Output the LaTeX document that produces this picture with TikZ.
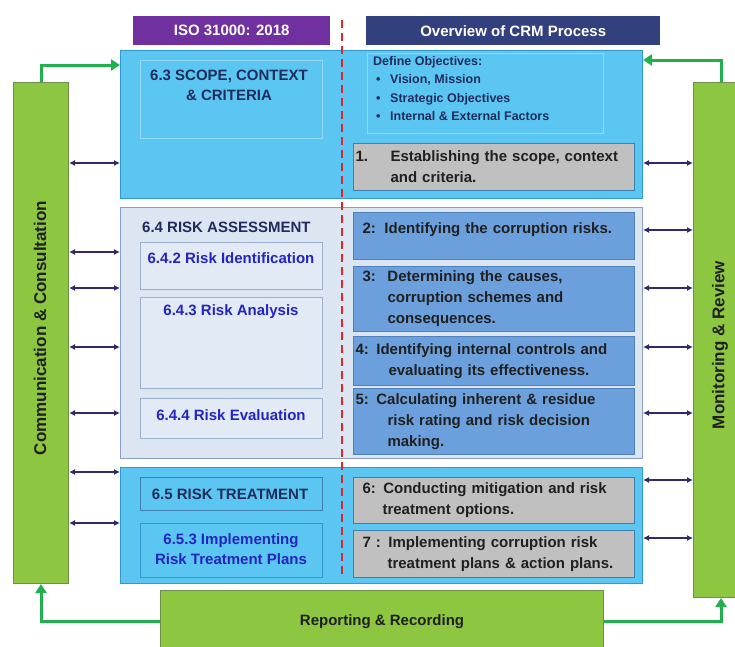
\documentclass[tikz,border=0pt]{standalone}
\usepackage{fontspec}
\setmainfont{Liberation Sans}
\usetikzlibrary{arrows.meta}

\definecolor{isopurple}{HTML}{7030A0}
\definecolor{crmnavy}{HTML}{33407E}
\definecolor{skyfill}{HTML}{5CC6F2}
\definecolor{skyline}{HTML}{3199CF}
\definecolor{skyframe}{HTML}{93D9F6}
\definecolor{palefill}{HTML}{DCE6F2}
\definecolor{paleline}{HTML}{8C9DC3}
\definecolor{subfill}{HTML}{E1EAF5}
\definecolor{subline}{HTML}{9BB0CD}
\definecolor{stepblue}{HTML}{6CA0DC}
\definecolor{stepline}{HTML}{4F81BD}
\definecolor{stepgray}{HTML}{C0C0C0}
\definecolor{grayline}{HTML}{3F7FB0}
\definecolor{leafgreen}{HTML}{8DC641}
\definecolor{leafline}{HTML}{6F8F4A}
\definecolor{flowgreen}{HTML}{21B04B}
\definecolor{linknavy}{HTML}{2E2A6B}
\definecolor{headink}{HTML}{1F2C5C}
\definecolor{blueink}{HTML}{2424C0}
\definecolor{stepink}{HTML}{202020}
\definecolor{divred}{HTML}{E0262C}

\begin{document}
\begin{tikzpicture}[x=1pt, y=-1pt,
    every node/.style={font=\bfseries, inner sep=0pt},
    header/.style={anchor=north west, text=white, minimum height=29,
        font=\bfseries\fontsize{15}{18}\selectfont},
    panel/.style={anchor=north west, line width=1pt, minimum width=522},
    frame/.style={anchor=north west, line width=0.8pt},
    subframe/.style={anchor=north west, draw=subline, fill=subfill, line width=1pt, minimum width=182},
    stepbox/.style={anchor=north west, draw=stepline, fill=stepblue, line width=1pt,
        text width=277, inner xsep=2pt, align=left, text=stepink,
        font=\bfseries\fontsize{15}{21}\selectfont},
    graystep/.style={stepbox, fill=stepgray, draw=grayline},
    headtext/.style={text=headink, font=\bfseries\fontsize{15}{20}\selectfont},
    bluetext/.style={text=blueink, font=\bfseries\fontsize{15}{20}\selectfont},
    greenbox/.style={anchor=north west, draw=leafline, fill=leafgreen, line width=1pt},
    greentext/.style={text=stepink, font=\bfseries\fontsize{17}{20}\selectfont},
    flow/.style={draw=flowgreen, line width=3pt, -{Triangle[length=9pt,width=11pt]}},
    link/.style={draw=linknavy, line width=1.8pt, {Latex[length=6pt,width=6pt]}-{Latex[length=6pt,width=6pt]}}
  ]
  \useasboundingbox (0,0) rectangle (735,646);
  \clip (0,0) rectangle (735,646);
  \fill[white] (0,0) rectangle (735,646);

  \node[header, fill=isopurple, minimum width=197] (iso) at (133,16) {ISO 31000: 2018};
  \node[header, fill=crmnavy, minimum width=294] (crm) at (366,16) {Overview of CRM Process};

  \node[greenbox, minimum width=55, minimum height=501] (comm) at (13,82) {};
  \node[greenbox, minimum width=55, minimum height=515] (monitor) at (693,82) {};
  \node[greenbox, minimum width=443, minimum height=62, greentext, font=\bfseries\fontsize{15}{18}\selectfont] (report) at (160,590) {Reporting \& Recording};
  \node[greentext, rotate=90] (commT) at (40,328) {Communication \& Consultation};
  \node[greentext, rotate=90] (monitorT) at (720,345) {Monitoring \& Review};

  \node[panel, fill=skyfill, draw=skyline, minimum height=148] (scope) at (120,50) {};
  \node[panel, fill=palefill, draw=paleline, minimum height=251] (assess) at (120,207) {};
  \node[panel, fill=skyfill, draw=skyline, minimum height=116] (treat) at (120,467) {};

  \node[frame, draw=skyframe, minimum width=182, minimum height=78] (scopeframe) at (140,60) {};
  \node[headtext, align=center] (scopeT) at (229,85) {6.3 SCOPE, CONTEXT\\\& CRITERIA};
  \node[frame, draw=skyframe, minimum width=236, minimum height=80] (objframe) at (367,53) {};
  \node[anchor=north west, align=left, text=headink, font=\bfseries\fontsize{12.5}{18.5}\selectfont] (objT) at (373,56)
    {Define Objectives:\\
     \hspace*{3pt}\makebox[14pt][l]{\textbullet}Vision, Mission\\
     \hspace*{3pt}\makebox[14pt][l]{\textbullet}Strategic Objectives\\
     \hspace*{3pt}\makebox[14pt][l]{\textbullet}Internal \& External Factors};

  \node[headtext, anchor=west] (assessT) at (142,227) {6.4 RISK ASSESSMENT};
  \node[subframe, minimum height=47] (ident) at (140,242) {};
  \node[subframe, minimum height=91] (analysis) at (140,297) {};
  \node[subframe, minimum height=40] (evaluation) at (140,398) {};
  \node[bluetext] (identT) at (231,258) {6.4.2 Risk Identification};
  \node[bluetext] (analysisT) at (231,312) {6.4.3 Risk Analysis};
  \node[bluetext] (evaluationT) at (231,415) {6.4.4 Risk Evaluation};

  \node[subframe, fill=skyfill, draw=grayline, minimum height=33] (treatbox) at (140,477) {};
  \node[subframe, fill=skyfill, draw=skyline, minimum height=54] (implement) at (140,523) {};
  \node[headtext] (treatT) at (230,494) {6.5 RISK TREATMENT};
  \node[bluetext, align=center] (implementT) at (231,549) {6.5.3 Implementing\\Risk Treatment Plans};

  \node[graystep, minimum height=47] (s1) at (353,143)
    {\makebox[35pt][l]{1.}Establishing the scope, context\\\hspace*{35pt}and criteria.};
  \node[stepbox, minimum height=47] (s2) at (353,212)
    {\hspace*{7pt}\makebox[22pt][l]{2:}Identifying the corruption risks.\\[-11pt]\strut};
  \node[stepbox, minimum height=65] (s3) at (353,266)
    {\hspace*{7pt}\makebox[25pt][l]{3:}Determining the causes,\\\hspace*{32pt}corruption schemes and\\\hspace*{32pt}consequences.};
  \node[stepbox, minimum height=49] (s4) at (353,336)
    {4: Identifying internal controls and\\\hspace*{33pt}evaluating its effectiveness.};
  \node[stepbox, minimum height=66] (s5) at (353,388)
    {5: Calculating inherent \& residue\\\hspace*{32pt}risk rating and risk decision\\\hspace*{32pt}making.};
  \node[graystep, minimum height=46] (s6) at (353,477)
    {\hspace*{7pt}6: Conducting mitigation and risk\\\hspace*{27pt}treatment options.};
  \node[graystep, minimum height=47] (s7) at (353,530)
    {\hspace*{7pt}7 : Implementing corruption risk\\\hspace*{32pt}treatment plans \& action plans.};

  \draw[divred, line width=2pt, dash pattern=on 8pt off 5pt] (342,20) -- (342,578);

  \draw[flow] (comm.north) |- ([yshift=-15pt]scope.north west);
  \draw[flow] (monitor.north) |- ([yshift=-10pt]scope.north east);
  \draw[flow] (report.west) -| (comm.south);
  \draw[flow] (report.east) -| (monitor.south);

  \foreach \y/\part in {163/scope, 252/assess, 288/assess, 347/assess, 413/assess, 472/treat, 523/treat}
    \draw[link] (comm.east |- 0,\y) -- (\part.west |- 0,\y);
  \foreach \y/\part in {163/scope, 230/assess, 288/assess, 347/assess, 413/assess, 480/treat, 538/treat}
    \draw[link] (\part.east |- 0,\y) -- (monitor.west |- 0,\y);
\end{tikzpicture}
\end{document}
